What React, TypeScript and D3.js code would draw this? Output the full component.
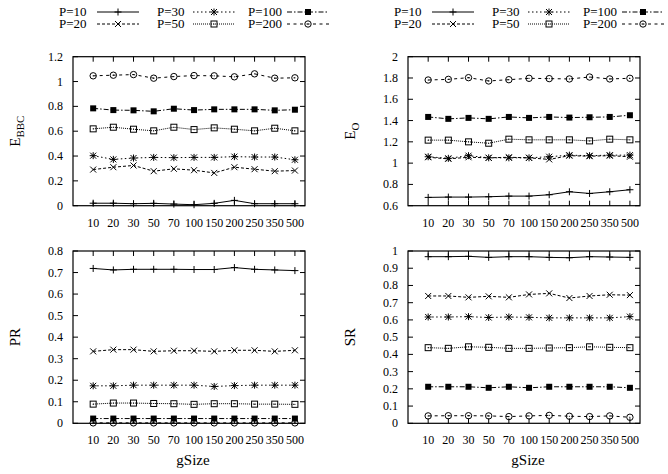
import React from "react";
import * as d3 from "d3";

const gSizes = ["10", "20", "30", "50", "70", "100", "150", "200", "250", "350", "500"];
const seriesNames = ["P=10", "P=20", "P=30", "P=50", "P=100", "P=200"];

const ebbcP10 = [0.02, 0.02, 0.016, 0.019, 0.013, 0.008, 0.019, 0.043, 0.016, 0.016, 0.016];
const ebbcP20 = [0.291, 0.31, 0.324, 0.278, 0.297, 0.286, 0.264, 0.31, 0.294, 0.278, 0.283];
const ebbcP30 = [0.403, 0.373, 0.384, 0.389, 0.387, 0.389, 0.389, 0.395, 0.392, 0.392, 0.37];
const ebbcP50 = [0.619, 0.632, 0.616, 0.603, 0.632, 0.613, 0.627, 0.616, 0.603, 0.624, 0.603];
const ebbcP100 = [0.784, 0.77, 0.768, 0.76, 0.781, 0.77, 0.776, 0.776, 0.776, 0.768, 0.773];
const ebbcP200 = [1.046, 1.051, 1.056, 1.027, 1.04, 1.048, 1.046, 1.038, 1.062, 1.027, 1.03];

const eoP10 = [0.678, 0.681, 0.681, 0.684, 0.69, 0.69, 0.703, 0.731, 0.715, 0.731, 0.75];
const eoP20 = [1.055, 1.04, 1.055, 1.05, 1.055, 1.05, 1.035, 1.07, 1.065, 1.07, 1.06];
const eoP30 = [1.06, 1.045, 1.07, 1.05, 1.05, 1.05, 1.06, 1.075, 1.07, 1.075, 1.075];
const eoP50 = [1.216, 1.216, 1.2, 1.187, 1.225, 1.219, 1.219, 1.219, 1.209, 1.225, 1.219];
const eoP100 = [1.434, 1.416, 1.425, 1.416, 1.434, 1.425, 1.434, 1.428, 1.431, 1.434, 1.45];
const eoP200 = [1.781, 1.787, 1.803, 1.772, 1.784, 1.797, 1.794, 1.791, 1.809, 1.791, 1.797];

const prP10 = [0.719, 0.712, 0.715, 0.715, 0.715, 0.714, 0.714, 0.723, 0.715, 0.712, 0.709];
const prP20 = [0.334, 0.342, 0.342, 0.334, 0.337, 0.337, 0.334, 0.339, 0.339, 0.334, 0.339];
const prP30 = [0.174, 0.174, 0.177, 0.177, 0.177, 0.177, 0.171, 0.175, 0.177, 0.177, 0.177];
const prP50 = [0.089, 0.094, 0.094, 0.092, 0.091, 0.088, 0.091, 0.091, 0.089, 0.089, 0.088];
const prP100 = [0.022, 0.022, 0.022, 0.022, 0.022, 0.022, 0.022, 0.022, 0.022, 0.022, 0.022];
const prP200 = [0.002, 0.002, 0.002, 0.002, 0.002, 0.002, 0.002, 0.002, 0.002, 0.002, 0.002];

const srP10 = [0.967, 0.967, 0.969, 0.963, 0.967, 0.967, 0.963, 0.961, 0.967, 0.965, 0.963];
const srP20 = [0.739, 0.739, 0.731, 0.737, 0.731, 0.748, 0.754, 0.727, 0.739, 0.746, 0.744];
const srP30 = [0.617, 0.617, 0.619, 0.614, 0.617, 0.615, 0.612, 0.612, 0.612, 0.612, 0.619];
const srP50 = [0.439, 0.435, 0.444, 0.441, 0.435, 0.435, 0.437, 0.439, 0.444, 0.441, 0.439];
const srP100 = [0.212, 0.212, 0.212, 0.206, 0.212, 0.206, 0.212, 0.212, 0.212, 0.212, 0.206];
const srP200 = [0.043, 0.044, 0.044, 0.043, 0.039, 0.043, 0.046, 0.041, 0.039, 0.043, 0.035];

const ebbcTicks = [0, 0.2, 0.4, 0.6, 0.8, 1, 1.2];
const eoTicks = [0.6, 0.8, 1, 1.2, 1.4, 1.6, 1.8, 2];
const prTicks = [0, 0.1, 0.2, 0.3, 0.4, 0.5, 0.6, 0.7, 0.8];
const srTicks = [0, 0.1, 0.2, 0.3, 0.4, 0.5, 0.6, 0.7, 0.8, 0.9, 1];

const dashes = ["none", "3,2", "1.5,2.5", "1,1", "5,2,1.5,2", "3,3.5"];
const FONT = "Liberation Serif";

function Marker({ kind, x, y }: { kind: number; x: number; y: number }) {
  const s = 3;
  const st = { stroke: "#000", strokeWidth: 1, fill: "none" };
  if (kind === 0)
    return <path d={`M${x - 3.5},${y}H${x + 3.5}M${x},${y - 3.5}V${y + 3.5}`} {...st} />;
  if (kind === 1)
    return <path d={`M${x - s},${y - s}L${x + s},${y + s}M${x - s},${y + s}L${x + s},${y - s}`} {...st} />;
  if (kind === 2)
    return (
      <path
        d={`M${x - 3.5},${y}H${x + 3.5}M${x},${y - 3.5}V${y + 3.5}M${x - s},${y - s}L${x + s},${y + s}M${x - s},${y + s}L${x + s},${y - s}`}
        {...st}
      />
    );
  if (kind === 3)
    return (
      <g>
        <rect x={x - s} y={y - s} width={2 * s} height={2 * s} {...st} />
        <circle cx={x} cy={y} r={0.6} fill="#000" />
      </g>
    );
  if (kind === 4) return <rect x={x - s} y={y - s} width={2 * s} height={2 * s} fill="#000" />;
  return (
    <g>
      <circle cx={x} cy={y} r={3.2} {...st} />
      <circle cx={x} cy={y} r={0.6} fill="#000" />
    </g>
  );
}

type PanelProps = {
  left: number;
  right: number;
  top: number;
  bottom: number;
  domain: [number, number];
  ticks: number[];
  series: number[][];
  ylabel: string;
  ysub?: string;
  xlabel?: boolean;
};

function Panel({ left, right, top, bottom, domain, ticks, series, ylabel, ysub, xlabel }: PanelProps) {
  const x = d3.scaleLinear().domain([0, 11.5]).range([left, right]);
  const y = d3.scaleLinear().domain(domain).range([bottom, top]);
  const idx = gSizes.map((_, i) => i + 1);
  const tl = 5;
  const fmt = (v: number) => String(+v.toFixed(1));
  const cy = (top + bottom) / 2;
  return (
    <g>
      {series.map((vals, si) => {
        const line = d3
          .line<number>()
          .x((_, i) => x(i + 1))
          .y((v) => y(v));
        return (
          <g key={si}>
            <path d={line(vals) || ""} fill="none" stroke="#000" strokeWidth={1} strokeDasharray={dashes[si]} />
            {vals.map((v, i) => (
              <Marker key={i} kind={si} x={x(i + 1)} y={y(v)} />
            ))}
          </g>
        );
      })}
      <rect x={left} y={top} width={right - left} height={bottom - top} fill="none" stroke="#000" strokeWidth={1.2} />
      {idx.map((v, i) => (
        <g key={i}>
          <line x1={x(v)} x2={x(v)} y1={bottom} y2={bottom - tl} stroke="#000" />
          <line x1={x(v)} x2={x(v)} y1={top} y2={top + tl} stroke="#000" />
          <text x={x(v)} y={bottom + 21} textAnchor="middle" fontSize={12} fontFamily={FONT}>
            {gSizes[i]}
          </text>
        </g>
      ))}
      {ticks.map((t, i) => (
        <g key={i}>
          <line x1={left} x2={left + tl} y1={y(t)} y2={y(t)} stroke="#000" />
          <line x1={right} x2={right - tl} y1={y(t)} y2={y(t)} stroke="#000" />
          <text x={left - 10} y={y(t) + 4} textAnchor="end" fontSize={12} fontFamily={FONT}>
            {fmt(t)}
          </text>
        </g>
      ))}
      <text
        transform={`translate(${left - 53},${cy}) rotate(-90)`}
        textAnchor="middle"
        fontSize={15}
        fontFamily={FONT}
      >
        {ylabel}
        {ysub ? (
          <tspan fontSize={11} dy={4}>
            {ysub}
          </tspan>
        ) : null}
      </text>
      {xlabel ? (
        <text x={(left + right) / 2 + 4} y={bottom + 42} textAnchor="middle" fontSize={15} fontFamily={FONT}>
          gSize
        </text>
      ) : null}
    </g>
  );
}

function Legend({ ox }: { ox: number }) {
  const cols = [
    { tx: 59, lx: 97 },
    { tx: 157, lx: 193 },
    { tx: 248, lx: 287 },
  ];
  const rows = [16, 28];
  return (
    <g>
      {seriesNames.map((name, i) => {
        const c = cols[Math.floor(i / 2)];
        const r = rows[i % 2];
        const x1 = ox + c.lx;
        const x2 = x1 + 42;
        const ly = r - 4;
        return (
          <g key={i}>
            <text x={ox + c.tx} y={r} fontSize={13} fontFamily={FONT}>
              {name}
            </text>
            <line x1={x1} x2={x2} y1={ly} y2={ly} stroke="#000" strokeWidth={1} strokeDasharray={dashes[i]} />
            <Marker kind={i} x={(x1 + x2) / 2} y={ly} />
          </g>
        );
      })}
    </g>
  );
}

export default function App() {
  return (
    <div style={{ position: "absolute", left: 0, top: 0 }}>
      <svg width={668} height={474} style={{ display: "block", background: "#fff" }}>
        <Legend ox={0} />
        <Legend ox={335} />
        <Panel
          left={73}
          right={305}
          top={56.7}
          bottom={205.7}
          domain={[0, 1.2]}
          ticks={ebbcTicks}
          series={[ebbcP10, ebbcP20, ebbcP30, ebbcP50, ebbcP100, ebbcP200]}
          ylabel="E"
          ysub="BBC"
        />
        <Panel
          left={408}
          right={640}
          top={56.7}
          bottom={205.7}
          domain={[0.6, 2]}
          ticks={eoTicks}
          series={[eoP10, eoP20, eoP30, eoP50, eoP100, eoP200]}
          ylabel="E"
          ysub="O"
        />
        <Panel
          left={73}
          right={305}
          top={251}
          bottom={423.3}
          domain={[0, 0.8]}
          ticks={prTicks}
          series={[prP10, prP20, prP30, prP50, prP100, prP200]}
          ylabel="PR"
          xlabel
        />
        <Panel
          left={408}
          right={640}
          top={251}
          bottom={423.3}
          domain={[0, 1]}
          ticks={srTicks}
          series={[srP10, srP20, srP30, srP50, srP100, srP200]}
          ylabel="SR"
          xlabel
        />
      </svg>
    </div>
  );
}
